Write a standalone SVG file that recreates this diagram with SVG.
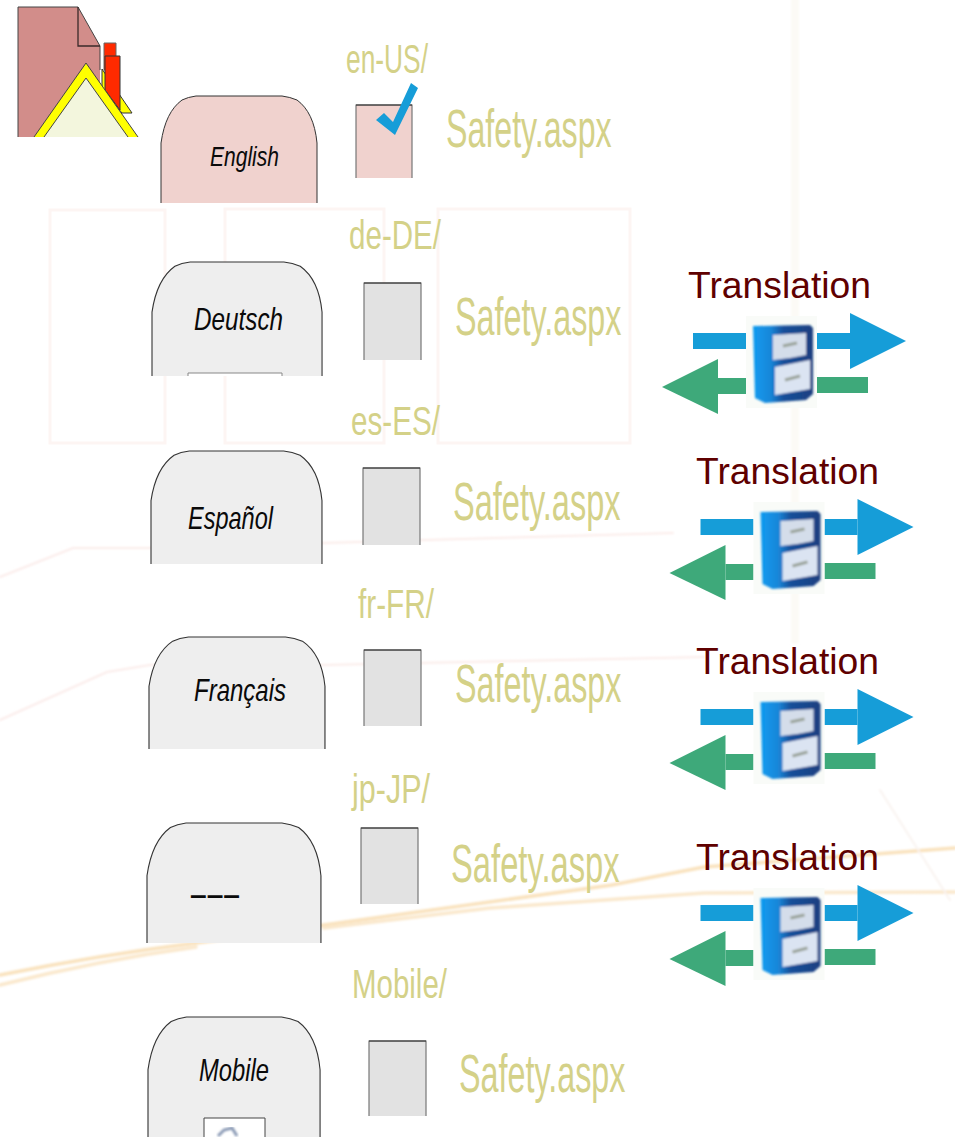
<svg xmlns="http://www.w3.org/2000/svg" width="955" height="1137" viewBox="0 0 955 1137">
<style>
text{font-family:"Liberation Sans",Arial,sans-serif}
.lbl{fill:#d4d188;font-size:41px}
.saf{fill:#d4d188;font-size:53px}
.tr{fill:#5f0000;font-size:37px}
.tab{font-style:italic;fill:#0a0a0a;font-size:32px}
.shape{stroke:#333;stroke-width:1}
.grey{fill:#eeeeee}
.pink{fill:#f0d2ce}
.page{fill:#e2e2e2}
.side{stroke:#777;stroke-width:1.2}
.top{stroke:#222;stroke-width:1.2;fill:none}
.edge{fill:none;stroke:#444;stroke-width:1}
.bg{fill:none;stroke-linecap:round}
</style>
<defs>
<path id="tabshape" d="M0 107V47C3 26 10 12 21 4Q27 1 35 0H121Q129 1 136 4C147 12 154 26 156 47V107"/>
<linearGradient id="cab" x1="0" x2="1" y1="0" y2="0"><stop offset="0" stop-color="#0f9bf0"/><stop offset=".3" stop-color="#1a86d8"/><stop offset=".5" stop-color="#174f9a"/><stop offset="1" stop-color="#1b3f80"/></linearGradient>
<filter id="soft" x="-10%" y="-10%" width="120%" height="120%"><feGaussianBlur stdDeviation="0.9"/></filter>
<filter id="softer" x="-5%" y="-20%" width="110%" height="140%"><feGaussianBlur stdDeviation="1"/></filter>
<g id="exchange">
<rect x="693" y="333" width="53" height="16" fill="#169dd8"/>
<rect x="817" y="333" width="33" height="16" fill="#169dd8"/>
<path d="M850 313L906 341L850 369Z" fill="#169dd8"/>
<rect x="718" y="378" width="28" height="16" fill="#3ea97a"/>
<rect x="817" y="377" width="51" height="16" fill="#3ea97a"/>
<path d="M662 387L718 359V414Z" fill="#3ea97a"/>
<rect x="746" y="316" width="71" height="92" fill="#f9fbf8"/>
<g filter="url(#soft)">
<path d="M753 326L810 325L813 328L813 394L806 400L765 403L755 398Z" fill="url(#cab)"/>
<path d="M773 335L806 333V355L790 358L773 360Z" fill="#d4ddea"/>
<path d="M775 367L810 360V389L775 395Z" fill="#dbe4f2"/>
<path d="M783 346L797 343M785 380L800 376" stroke="#9aa39a" stroke-width="3" fill="none"/>
</g>
</g>
</defs>

<g id="background">
<g filter="url(#softer)">
<path class="bg" d="M0 975Q100 955 196 943T324 925L612 885L704 867L955 848" stroke="#f9e2bd" stroke-width="3.5"/>
<path class="bg" d="M0 985Q100 960 196 947M324 928L490 908L704 893L955 892" stroke="#fae8cc" stroke-width="3.5"/>
<path class="bg" d="M0 577L73 548H150L324 543L673 533" stroke="#fbecea" stroke-width="2"/>
<path class="bg" d="M0 720L107 672L150 665H324L704 657" stroke="#fbecea" stroke-width="2"/>
<path class="bg" d="M795 0V640" stroke="#fcfaf6" stroke-width="8"/>
<path class="bg" d="M880 790L950 900" stroke="#f9f3f0" stroke-width="2"/>
</g>
<g stroke="#fdf5f3" stroke-width="3" fill="none">
<rect x="50" y="210" width="115" height="233"/>
<rect x="225" y="209" width="159" height="234"/>
<rect x="438" y="209" width="192" height="234"/>
</g>
</g>

<g id="connectors"></g>

<g id="house">
<path d="M18 137V7H78L100 46V137Z" fill="#d28d8a"/>
<path class="edge" d="M18 137V7H78L100 46V70"/>
<path d="M78 7V46H100" fill="none" stroke="#3a2a2a" stroke-width="1.3"/>
<path d="M104 43H116V70H104Z" fill="#ff2a00" stroke="#666"/>
<path d="M102 69L132 113H122L102 90Z" fill="#ffff00" stroke="#333"/>
<path d="M105 56H120V110L105 90Z" fill="#ff2a00" stroke="#333"/>
<path d="M86 63L138 137H34Z" fill="#ffff00"/>
<path class="edge" d="M34 137L86 63L138 137"/>
<path d="M86 78L128 137H44Z" fill="#f3f6dd"/>
<path class="edge" d="M44 137L86 78L128 137"/>
</g>

<g id="node-english">
<use href="#tabshape" x="161" y="96" class="shape pink"/>
<text class="tab" x="210" y="166" style="font-size:28px" textLength="69" lengthAdjust="spacingAndGlyphs">English</text>
<path d="M356 178V105H412V178" class="pink side"/><path class="top" d="M356 105H412"/>
<text class="lbl" x="346" y="73" textLength="82" lengthAdjust="spacingAndGlyphs">en-US/</text>
<path d="M376 120L384 113L393 122L411 83L418 88L395 135Z" fill="#169dd8"/>
<text class="saf" transform="translate(446 147) scale(.607 1)">Safety.aspx</text>
</g>

<g id="node-deutsch">
<use href="#tabshape" transform="translate(152 262) scale(1.09 1.065)" class="shape grey"/>
<path d="M188 376V373H282V376" fill="#fff" stroke="#888"/>
<text class="tab" x="194" y="330" textLength="89" lengthAdjust="spacingAndGlyphs">Deutsch</text>
<path d="M364 360V283H421V360" class="page side"/><path class="top" d="M364 283H421"/>
<text class="lbl" x="349" y="249" textLength="92" lengthAdjust="spacingAndGlyphs">de-DE/</text>
<text class="saf" transform="translate(455 335) scale(.61 1)">Safety.aspx</text>
</g>

<g id="node-espanol">
<use href="#tabshape" transform="translate(151 451) scale(1.096 1.056)" class="shape grey"/>
<text class="tab" x="188" y="529" textLength="85" lengthAdjust="spacingAndGlyphs">Español</text>
<path d="M363 545V468H420V545" class="page side"/><path class="top" d="M363 468H420"/>
<text class="lbl" x="351" y="435" textLength="89" lengthAdjust="spacingAndGlyphs">es-ES/</text>
<text class="saf" transform="translate(453 520) scale(.614 1)">Safety.aspx</text>
</g>

<g id="node-francais">
<use href="#tabshape" transform="translate(149 637) scale(1.128 1.047)" class="shape grey"/>
<text class="tab" x="194" y="701" textLength="92" lengthAdjust="spacingAndGlyphs">Français</text>
<path d="M364 726V650H421V726" class="page side"/><path class="top" d="M364 650H421"/>
<text class="lbl" x="358" y="618" textLength="76" lengthAdjust="spacingAndGlyphs">fr-FR/</text>
<text class="saf" transform="translate(455 702) scale(.61 1)">Safety.aspx</text>
</g>

<g id="node-japanese">
<use href="#tabshape" transform="translate(147 823) scale(1.115 1.121)" class="shape grey"/>
<text class="tab" x="190" y="904" font-weight="bold" textLength="50" lengthAdjust="spacingAndGlyphs" style="font-style:normal;font-size:28px">–––</text>
<path d="M361 904V828H418V904" class="page side"/><path class="top" d="M361 828H418"/>
<text class="lbl" x="352" y="803" textLength="78" lengthAdjust="spacingAndGlyphs">jp-JP/</text>
<text class="saf" transform="translate(451 882) scale(.618 1)">Safety.aspx</text>
</g>

<g id="node-mobile">
<use href="#tabshape" transform="translate(148 1017) scale(1.103 1.121)" class="shape grey"/>
<path d="M204 1137V1118H265V1137" fill="#fff" stroke="#444"/>
<path d="M218 1136L224 1130L232 1128L237 1136" fill="none" stroke="#8a9ab5" stroke-width="3" filter="url(#soft)"/>
<text class="tab" x="199" y="1081" textLength="70" lengthAdjust="spacingAndGlyphs">Mobile</text>
<path d="M369 1116V1041H426V1116" class="page side"/><path class="top" d="M369 1041H426"/>
<text class="lbl" x="352" y="998" textLength="95" lengthAdjust="spacingAndGlyphs">Mobile/</text>
<text class="saf" transform="translate(459 1092) scale(.61 1)">Safety.aspx</text>
</g>

<g id="translation-1">
<text class="tr" x="688" y="298" textLength="183" lengthAdjust="spacingAndGlyphs">Translation</text>
<use href="#exchange"/>
</g>
<g id="translation-2">
<text class="tr" x="696" y="484" textLength="183" lengthAdjust="spacingAndGlyphs">Translation</text>
<use href="#exchange" x="7.5" y="186"/>
</g>
<g id="translation-3">
<text class="tr" x="696" y="674" textLength="183" lengthAdjust="spacingAndGlyphs">Translation</text>
<use href="#exchange" x="7.5" y="376"/>
</g>
<g id="translation-4">
<text class="tr" x="696" y="870" textLength="183" lengthAdjust="spacingAndGlyphs">Translation</text>
<use href="#exchange" x="7.5" y="572"/>
</g>
</svg>
